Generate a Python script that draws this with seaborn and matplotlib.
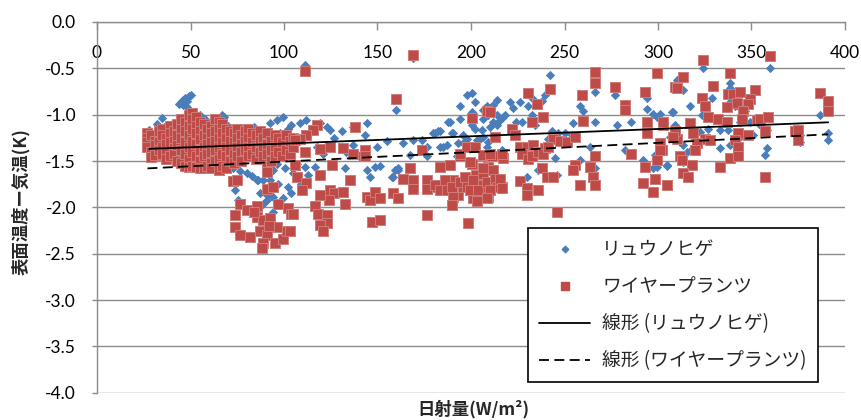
import numpy as np
import pandas as pd
import matplotlib
matplotlib.use("Agg")
import matplotlib.pyplot as plt
from matplotlib.lines import Line2D
import seaborn as sns

# ---------------- data ----------------
series_names = ["リュウノヒゲ", "ワイヤープランツ"]
trend_names = ["線形 (リュウノヒゲ)", "線形 (ワイヤープランツ)"]
x_label = "日射量(W/m²)"
y_label = "表面温度ー気温(K)"
x_ticks = [0, 50, 100, 150, 200, 250, 300, 350, 400]
y_ticks = [0.0, -0.5, -1.0, -1.5, -2.0, -2.5, -3.0, -3.5, -4.0]

# linear trend lines (intercept, slope) as shown in the chart
blue_trend = (-1.391, 0.000789)
red_trend = (-1.607, 0.00101)

# リュウノヒゲ (x, y)
blue_points = [
    (28, -1.17), (30, -1.42), (32, -1.10), (34.6, -1.04), (36, -1.13), (38, -1.30), (40.8, -1.09),
    (42, -1.20), (44, -0.88), (45, -0.86), (46, -0.84), (47, -0.82), (48, -0.85), (49, -0.80),
    (50, -0.79), (46, -0.90), (48, -0.92), (52, -1.02), (55, -1.00), (56, -1.10), (58, -1.05),
    (60, -1.15), (62, -1.08), (64, -1.04), (66.7, -1.00), (68, -1.02), (70, -1.12), (72, -1.20),
    (74.7, -1.15), (76, -1.25), (78, -1.18), (81.8, -1.15), (84, -1.13), (86, -1.30), (88.6, -1.26),
    (90, -1.22), (92.5, -1.09), (94, -1.22), (96, -1.06), (98, -1.20), (99.6, -1.02), (102, -1.15),
    (104, -1.11), (30, -1.45), (40, -1.38), (55, -1.48), (65, -1.42), (75, -1.50), (85, -1.45),
    (92.5, -1.40), (87, -1.33),
    (72.9, -1.58), (76.5, -1.61), (80, -1.63), (73.8, -1.81), (85.4, -1.71), (86.3, -1.71),
    (88.9, -1.71), (92.5, -1.71), (87.2, -1.85), (90.7, -1.87), (94.3, -1.89), (88.9, -1.96),
    (99.6, -1.90), (104, -1.85), (94.3, -2.05), (105, -1.63), (75.6, -1.92), (96, -1.53),
    (100.5, -1.58), (94.3, -1.60), (91, -1.92), (97, -1.75), (102, -1.78), (83, -1.66),
    (111, -0.46), (169.2, -0.39), (159.7, -0.95),
    (105, -1.31), (106.8, -1.53), (108.6, -1.09), (112, -1.06), (119, -1.09), (122.8, -1.13),
    (124.6, -1.16), (130.8, -1.18), (137.1, -1.13), (143.3, -1.22), (144.2, -1.09), (137.1, -1.33),
    (117.5, -1.35), (121, -1.42), (111.2, -1.56), (116.6, -1.56), (132.6, -1.58), (144.2, -1.60),
    (146, -1.67), (148.7, -1.56), (151.3, -1.55), (158.4, -1.67), (161, -1.60), (157.5, -1.67),
    (159.4, -1.60), (161.1, -1.58), (114, -1.20), (127, -1.25), (133, -1.40), (140, -1.45),
    (150, -1.35), (155, -1.28), (109, -1.75), (113, -1.65),
    (163.8, -1.31), (169.2, -1.27), (173.6, -1.27), (176.3, -1.45), (179.9, -1.20),
    (182.5, -1.18), (185.2, -1.35), (187.9, -1.08), (190.6, -1.20), (194.1, -0.91), (194.1, -1.05),
    (197.7, -0.79), (200.4, -0.77), (202.1, -0.86), (200.4, -0.97), (206.6, -0.95), (206.6, -1.05),
    (203, -1.27), (195.9, -1.31), (192.3, -1.45), (202.1, -1.83), (205.7, -1.17), (167.4, -1.44),
    (176.3, -1.35), (183.4, -1.35), (187, -1.33), (193.2, -1.31), (180.7, -1.20), (183.4, -1.18),
    (188.8, -1.08), (189.7, -1.20), (195.9, -1.22), (197.7, -1.26), (204.8, -1.26), (209.3, -1.30),
    (202.1, -1.15), (200.4, -1.11), (207.5, -0.93), (209.3, -1.00), (213.7, -1.00), (218.2, -1.00),
    (211.9, -1.08), (215.5, -1.06), (213.7, -0.84), (211.9, -0.90), (220.9, -0.86), (208.3, -0.91),
    (210.1, -1.13), (213.7, -1.11), (216.4, -1.04), (206.6, -1.24), (208.3, -1.35), (216.4, -1.38),
    (203, -1.84), (224, -1.08),
    (242.2, -0.57), (239.6, -0.79), (237.8, -0.85), (232.5, -0.82), (230.7, -0.91), (226.2, -0.86),
    (222.6, -0.93), (227.1, -1.08), (232.5, -1.00), (234.2, -1.11), (243.2, -1.18), (241.4, -1.26),
    (246.7, -1.20), (250.3, -1.20), (253.8, -1.22), (254.7, -1.09), (258.3, -0.91), (260, -0.96),
    (266.3, -0.75), (266.3, -1.08), (263.6, -1.35), (266.3, -1.58), (258.3, -1.49), (244.9, -1.47),
    (236, -1.60), (229.8, -1.67), (245.8, -1.65),
    (277, -0.79), (278, -1.11), (282.4, -1.38), (285.8, -1.08), (292.2, -1.49), (294.3, -0.82),
    (294.3, -0.94), (297.5, -0.99), (299.3, -1.02), (301.1, -0.99), (307.4, -0.97), (310, -0.63),
    (298.4, -1.44), (297.5, -1.58), (299.3, -1.56), (304.6, -1.55),
    (324.2, -0.50), (360, -0.50), (313.5, -0.73), (328.7, -0.82), (338.5, -0.66), (338.5, -0.71),
    (337.6, -0.77), (339.4, -0.82), (338.5, -0.86), (341.2, -0.91), (317.1, -0.91), (308.2, -0.97),
    (300, -1.02), (323.3, -1.00), (309.1, -1.11), (326.9, -1.15), (333.1, -1.16), (337.6, -1.16),
    (343.9, -1.08), (349.2, -1.08), (354.5, -1.11), (358.1, -1.16), (351, -1.22), (343.9, -1.24),
    (338.5, -1.33), (333.1, -1.36), (322.4, -1.19), (318.8, -1.24), (311.7, -1.30), (313.5, -1.33),
    (317.9, -1.38), (315.3, -1.40), (306.4, -1.24), (304.6, -1.54), (313.5, -1.51), (357.2, -1.44),
    (358.1, -1.36), (386.6, -1.00), (391, -1.20), (391, -1.27), (375.9, -1.29), (375.9, -1.22),
    (342.9, -0.91), (346.5, -0.96),
]

# ワイヤープランツ: dense band at low radiation, (x, [y values])
red_band_columns = [
    (27, [-1.20, -1.25, -1.30, -1.35]), (29, [-1.22, -1.40, -1.46]), (31, [-1.28, -1.33, -1.44]),
    (33, [-1.18, -1.30, -1.38]), (35, [-1.15, -1.22, -1.35, -1.42]), (37, [-1.25, -1.32, -1.40, -1.48]),
    (39, [-1.12, -1.20, -1.30, -1.45]), (41, [-1.18, -1.28, -1.36, -1.42]),
    (43, [-1.10, -1.22, -1.33, -1.50]), (45, [-1.05, -1.15, -1.25, -1.38, -1.52]),
    (47, [-1.08, -1.18, -1.30, -1.42, -1.55]), (49, [-1.00, -1.12, -1.22, -1.35, -1.48, -1.56]),
    (51, [-0.98, -1.05, -1.15, -1.28, -1.40, -1.55]), (53, [-1.03, -1.12, -1.20, -1.32, -1.45, -1.57]),
    (55, [-1.08, -1.18, -1.26, -1.38, -1.50, -1.58]), (57, [-1.10, -1.22, -1.35, -1.45, -1.58]),
    (59, [-1.15, -1.25, -1.32, -1.42, -1.55]), (61, [-1.12, -1.20, -1.30, -1.40, -1.52, -1.58]),
    (63, [-1.05, -1.18, -1.28, -1.38, -1.50]), (65, [-1.08, -1.15, -1.25, -1.35, -1.48, -1.60]),
    (67, [-1.10, -1.20, -1.30, -1.42, -1.55]), (69, [-1.15, -1.25, -1.35, -1.45, -1.58]),
    (71, [-1.18, -1.28, -1.38, -1.50]), (73, [-1.20, -1.30, -1.42, -1.52]),
    (75, [-1.15, -1.25, -1.35, -1.45]), (77, [-1.22, -1.32, -1.40, -1.50]),
    (79, [-1.18, -1.28, -1.38]), (81, [-1.15, -1.25, -1.35, -1.45]), (83, [-1.20, -1.30, -1.42]),
    (85, [-1.22, -1.35, -1.48]), (87, [-1.18, -1.28, -1.40]), (89, [-1.25, -1.35, -1.45]),
    (91, [-1.20, -1.32, -1.42, -1.55]), (93, [-1.28, -1.38, -1.50]), (95, [-1.22, -1.35, -1.45]),
    (97, [-1.25, -1.40]), (99, [-1.30, -1.45]), (101, [-1.22, -1.38]), (103, [-1.28, -1.42]),
    (105, [-1.25, -1.35]),
]

# ワイヤープランツ: remaining points (x, y)
red_points = [
    (72.9, -1.72), (74.7, -1.70), (76.5, -1.96), (73.8, -2.08), (80, -2.03), (85.4, -1.99),
    (73.8, -2.21), (76.5, -2.30), (81.8, -2.32), (85.4, -2.10), (88.9, -2.14), (92.5, -2.12),
    (87.2, -2.25), (90.7, -2.30), (88.9, -2.39), (88, -2.44), (95.2, -2.39), (96, -2.21),
    (99.6, -2.34), (101.4, -2.26), (97, -1.96), (102.3, -2.01), (104, -2.07), (90.7, -1.80),
    (94.3, -1.78), (90.7, -1.62), (106.8, -1.67), (84, -2.05), (92, -2.20),
    (111, -0.53), (169.2, -0.36), (159.7, -0.83),
    (117.5, -1.11), (115.7, -1.16), (112, -1.22), (108.6, -1.26), (105.9, -1.27), (138, -1.13),
    (124.6, -1.35), (119, -1.37), (111.2, -1.40), (131.7, -1.36), (125.5, -1.54), (137, -1.42),
    (143.3, -1.38), (143.3, -1.45), (106, -1.54), (112, -1.74), (119, -1.65), (109.5, -1.81),
    (124.6, -1.81), (127, -1.85), (131.7, -1.83), (132.6, -1.96), (124, -1.92), (119, -1.87),
    (135.3, -1.71), (116.6, -1.99), (118.3, -2.07), (122.8, -2.08), (122.8, -2.17), (119, -2.19),
    (121, -2.26), (105, -2.07), (103, -2.26), (144.2, -1.89), (146, -1.92), (148.7, -1.83),
    (151.3, -1.90), (146.9, -2.16), (151.3, -2.14), (158.4, -1.85), (161, -1.90),
    (163.8, -1.69), (169.2, -1.71), (169.2, -1.80), (167.4, -1.58), (173.6, -1.38), (176.3, -1.71),
    (176.3, -1.80), (181.7, -1.78), (185.2, -1.81), (176.3, -2.08), (183.5, -1.56), (188.8, -1.54),
    (190.6, -1.71), (189.6, -1.98), (193.2, -1.87), (194.1, -1.45), (195.9, -1.78), (198.6, -2.17),
    (200.4, -1.53), (200.3, -1.35), (200.3, -1.04), (201.2, -1.90), (202.9, -1.65), (205.7, -1.76),
    (207.5, -1.83), (208.4, -0.96), (212.8, -1.24), (221.8, -1.15), (194.1, -1.42),
    (197.7, -1.35), (202.1, -1.35), (206.6, -1.44), (211, -1.45), (217.3, -1.47), (199.5, -1.51),
    (180.7, -1.76), (183.4, -1.81), (186.1, -1.71), (187, -1.81), (189.7, -1.78), (190.6, -1.89),
    (189.7, -1.98), (194.1, -1.73), (196.8, -1.67), (197.7, -1.78), (199.5, -1.81), (201.3, -1.71),
    (203.9, -1.81), (203, -1.93), (206.6, -1.64), (208.4, -1.73), (209.3, -1.56), (209.3, -1.89),
    (212, -1.60), (212.8, -1.69), (213.7, -1.78), (216.4, -1.78), (206.6, -1.58), (215.5, -1.69),
    (210.1, -1.81), (216.4, -1.79), (208.3, -1.90), (210.1, -1.42), (216.4, -1.42),
    (223.5, -1.22), (210.1, -0.97),
    (266.3, -0.54), (266.3, -0.66), (259.2, -0.79), (242.2, -0.72), (230.7, -0.77), (235.2, -0.88),
    (238.7, -1.02), (232.5, -1.08), (226.2, -1.35), (229.8, -1.35), (233.4, -1.33), (227.1, -1.42),
    (230.7, -1.48), (232.5, -1.45), (236, -1.40), (239.6, -1.36), (244, -1.26), (247.6, -1.28),
    (251.2, -1.30), (255.6, -1.24), (260.1, -1.07), (238.7, -1.42), (241.4, -1.35), (226.2, -1.72),
    (229.8, -1.79), (229.8, -1.87), (236, -1.81), (237.8, -1.58), (240.5, -1.67), (244, -1.67),
    (245.8, -2.05), (255.6, -1.54), (254.7, -1.60), (258.3, -1.76), (263.6, -1.56), (266.3, -1.45),
    (265.4, -1.67), (266.3, -1.76),
    (299.3, -0.55), (277, -0.70), (282.4, -0.90), (282.4, -0.95), (293.1, -0.75), (309.2, -0.70),
    (285.8, -1.42), (293.1, -1.56), (292.2, -1.74), (297.5, -1.83), (298.4, -1.69), (301.9, -1.38),
    (299.3, -1.49), (304.6, -1.76), (294.3, -1.08), (294.3, -1.20), (302.8, -1.11), (309.2, -1.20),
    (310.1, -1.26),
    (360, -0.37), (324.2, -0.41), (313.5, -0.59), (309.9, -0.71), (338.5, -0.55), (329.6, -0.69),
    (351.9, -0.73), (337.6, -0.78), (340.3, -0.78), (343.9, -0.76), (323.3, -0.82), (349.2, -0.83),
    (348.3, -0.89), (342, -0.87), (336.7, -0.92), (325.1, -0.91), (345.6, -0.96), (344.7, -1.05),
    (326.9, -1.02), (332.2, -1.05), (336.7, -1.08), (302.8, -1.08), (317.1, -1.09), (352.7, -1.06),
    (354.5, -1.05), (358.9, -1.03), (386.6, -0.77), (391, -0.85), (391, -0.96), (373.3, -1.18),
    (375.1, -1.17), (375.1, -1.27), (343, -1.20), (348.3, -1.22), (357.2, -1.18), (309.1, -1.18),
    (308.2, -1.24), (318.8, -1.20), (325.1, -1.26), (327.8, -1.27), (320.6, -1.31), (319.7, -1.38),
    (341.2, -1.27), (343, -1.35), (300.9, -1.31), (300.9, -1.38), (311.7, -1.45), (312.6, -1.49),
    (318, -1.54), (338.5, -1.47), (342.9, -1.45), (333.1, -1.56), (313.5, -1.63), (316.2, -1.67),
    (304.6, -1.76), (357.2, -1.67),
]

# ---------------- build tables ----------------
blue_df = pd.DataFrame(blue_points, columns=["x", "y"])
red_rows = [(x, y) for x, ys in red_band_columns for y in ys] + red_points
red_df = pd.DataFrame(red_rows, columns=["x", "y"])

def trend_df(df, coef):
    xs = np.array([df["x"].min(), df["x"].max()])
    return pd.DataFrame({"x": xs, "y": coef[0] + coef[1] * xs})

blue_tr = trend_df(blue_df, blue_trend)
red_tr = trend_df(red_df, red_trend)

# ---------------- style ----------------
sns.set_theme(style="white")
plt.rcParams["font.family"] = ["Lato", "Noto Sans CJK JP", "DejaVu Sans"]
plt.rcParams["axes.unicode_minus"] = False

BLUE = "#4A7EBB"
RED = "#BE4B48"
GRID = "#8C8C8C"
JP = ["Noto Sans CJK JP", "DejaVu Sans"]

W, H = 861, 420
fig = plt.figure(figsize=(W / 100, H / 100), dpi=100)
ax = fig.add_axes([97 / W, 1 - 392.7 / H, 748 / W, 370.7 / H])

sns.scatterplot(data=blue_df, x="x", y="y", marker="D", s=17, color=BLUE,
                edgecolor=BLUE, linewidth=0.6, ax=ax, zorder=3, legend=False)
sns.scatterplot(data=red_df, x="x", y="y", marker="s", s=44, color=RED,
                edgecolor="#CF7C79", linewidth=0.7, ax=ax, zorder=4, legend=False)
sns.lineplot(data=blue_tr, x="x", y="y", color="black", lw=1.3, ax=ax, zorder=5)
sns.lineplot(data=red_tr, x="x", y="y", color="black", lw=1.3, ax=ax, zorder=5,
             dashes=False)
ax.lines[-1].set_dashes((5.5, 3.0))

ax.set_xlim(0, 400)
ax.set_ylim(-4, 0)
ax.set_xticks(x_ticks)
ax.set_xticklabels([str(t) for t in x_ticks])
ax.set_yticks(y_ticks)
ax.set_yticklabels([f"{t:.1f}" for t in y_ticks])

ax.xaxis.tick_top()
ax.tick_params(axis="x", direction="in", length=5.5, width=1.0, color=GRID,
               pad=-28, labelsize=12.5, labelcolor="black")
ax.tick_params(axis="y", direction="out", length=3.6, width=1.0, color=GRID,
               pad=11.5, labelsize=12.5, labelcolor="black", left=True)
ax.yaxis.grid(True, color=GRID, lw=1.0)
ax.xaxis.grid(False)
for side in ["bottom", "right"]:
    ax.spines[side].set_visible(False)
for side in ["top", "left"]:
    ax.spines[side].set_color(GRID)
    ax.spines[side].set_linewidth(1.0)

ax.set_xlabel(x_label, fontsize=12.5, fontweight="bold", family=JP)
ax.set_ylabel(y_label, fontsize=12.5, fontweight="bold", family=JP)
ax.xaxis.set_label_position("bottom")
ax.xaxis.set_label_coords((473 - 97) / 748, (392.7 - 400) / 370.7)
ax.yaxis.set_label_coords((30 - 97) / 748, (392.7 - 202) / 370.7)

handles = [
    Line2D([], [], marker="D", linestyle="", color=BLUE, markersize=3.3),
    Line2D([], [], marker="s", linestyle="", color=RED, markersize=5.5),
    Line2D([], [], color="black", lw=1.3),
    Line2D([], [], color="black", lw=1.3, dashes=(5.5, 3.0)),
]
leg = ax.legend(handles, series_names + trend_names, loc="upper left",
                bbox_to_anchor=(528 / W, 1 - 228 / H), bbox_transform=fig.transFigure,
                borderaxespad=0, frameon=True, fancybox=False, framealpha=1,
                edgecolor="black", prop={"family": JP, "size": 13.5},
                handlelength=2.7, handletextpad=0.65, labelspacing=0.85,
                borderpad=0.6)
leg.get_frame().set_linewidth(1.2)
leg.set_zorder(10)

fig.savefig("out.png", dpi=100)
